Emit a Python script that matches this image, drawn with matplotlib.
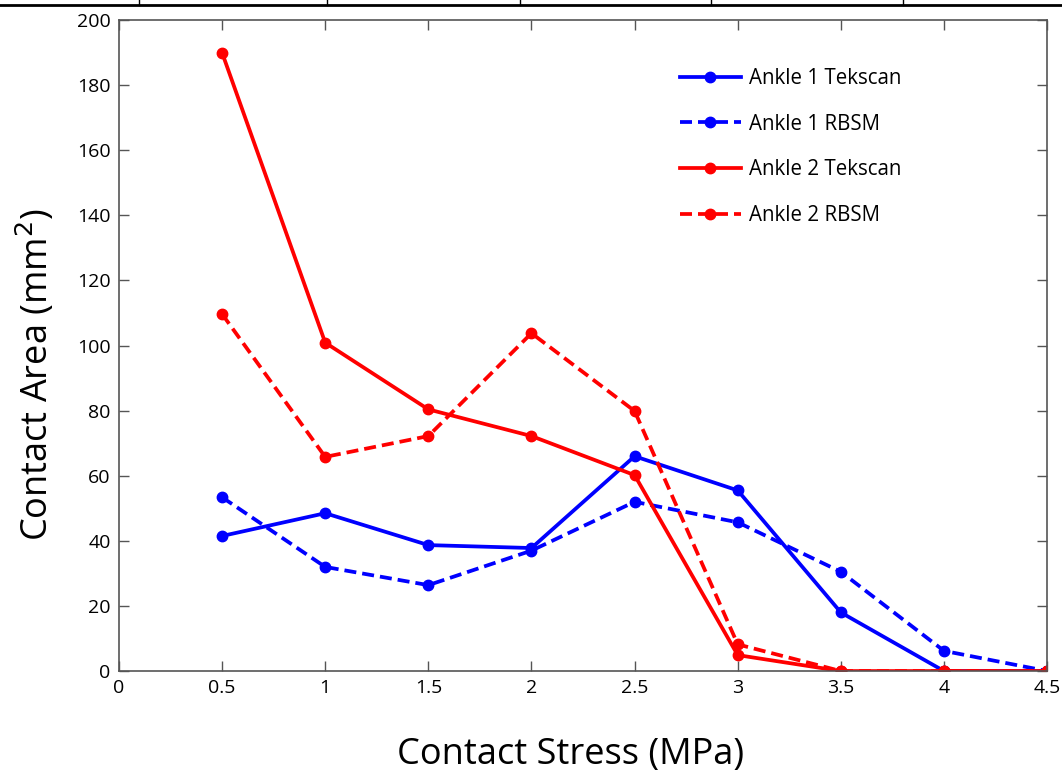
import matplotlib.pyplot as plt
from matplotlib.lines import Line2D

plt.rcParams['font.family'] = ['Open Sans', 'DejaVu Sans']

stress = [0.5, 1, 1.5, 2, 2.5, 3, 3.5, 4, 4.5]
ankle1_tekscan = [41.5, 48.5, 38.7, 37.8, 66, 55.5, 18, 0, 0]
ankle1_rbsm = [53.4, 32, 26.4, 37, 52, 45.7, 30.5, 6.2, 0]
ankle2_tekscan = [190, 100.9, 80.4, 72.2, 60.2, 4.9, 0, 0, 0]
ankle2_rbsm = [109.7, 65.8, 72.2, 103.8, 79.9, 8.2, 0, 0, 0]

xticks = [0, 0.5, 1, 1.5, 2, 2.5, 3, 3.5, 4, 4.5]
xticklabels = ['0', '0.5', '1', '1.5', '2', '2.5', '3', '3.5', '4', '4.5']
yticks = list(range(0, 201, 20))

fig = plt.figure(figsize=(10.62, 7.74), dpi=100)
ax = fig.add_axes([0.112, 0.133, 0.874, 0.841])

dash = (0, (3.2, 1.6))
lw = 2.7
ms = 7.5
ax.plot(stress, ankle1_tekscan, color='#0000ff', lw=lw, marker='o', ms=ms, label='Ankle 1 Tekscan')
ax.plot(stress, ankle1_rbsm, color='#0000ff', lw=lw, ls=dash, marker='o', ms=ms, label='Ankle 1 RBSM')
ax.plot(stress, ankle2_tekscan, color='#ff0000', lw=lw, marker='o', ms=ms, label='Ankle 2 Tekscan')
ax.plot(stress, ankle2_rbsm, color='#ff0000', lw=lw, ls=dash, marker='o', ms=ms, label='Ankle 2 RBSM')

ax.set_xlim(0, 4.5)
ax.set_ylim(0, 200)
ax.set_xticks(xticks)
ax.set_xticklabels(xticklabels)
ax.set_yticks(yticks)
ax.tick_params(direction='in', top=True, right=True, length=7, width=1, color='#555555',
               labelsize=14, pad=6)
for s in ax.spines.values():
    s.set_color('#555555')
    s.set_linewidth(1.2)

ax.set_xlabel('Contact Stress (MPa)', fontsize=26, labelpad=31)
ax.set_ylabel('Contact Area (mm$^2$)', fontsize=26, labelpad=14)
ax.xaxis.set_label_coords(0.487, -0.101)
ax.yaxis.label.set_y(0.456)

ax.legend(loc='upper left', bbox_to_anchor=(0.584, 0.955), frameon=False, fontsize=14.8,
          handlelength=3.0, labelspacing=1.2, handletextpad=0.4)

# cut-off table border at the very top
fig.add_artist(Line2D([0, 1], [1 - 5 / 774, 1 - 5 / 774], color='black', lw=2))
for xp in [139, 327, 520, 711, 903]:
    fig.add_artist(Line2D([xp / 1062, xp / 1062], [1 - 5 / 774, 1], color='black', lw=1))

fig.savefig('out.png', dpi=100)
